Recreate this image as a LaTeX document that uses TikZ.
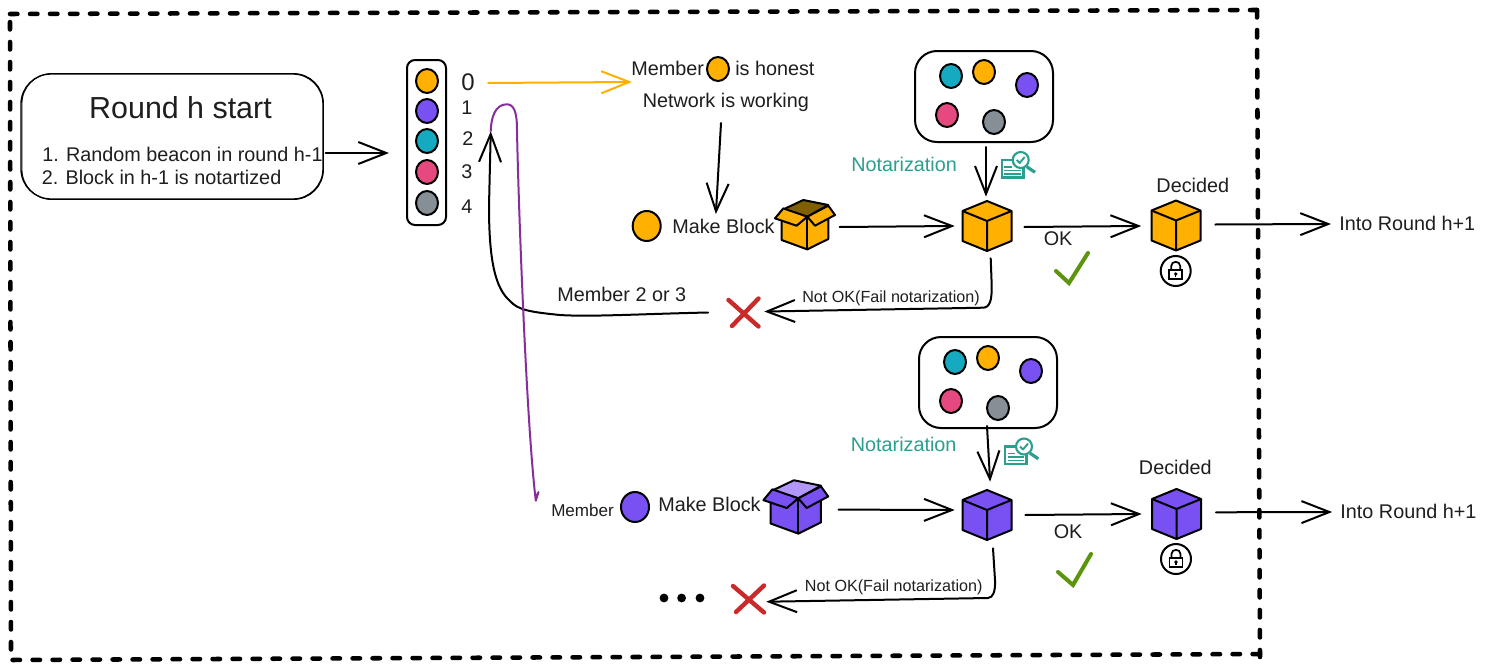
\documentclass[tikz,border=0pt]{standalone}
\usepackage{fontspec}
\setmainfont{Liberation Sans}
\usetikzlibrary{arrows.meta,calc,shapes.geometric}
\definecolor{ink}{HTML}{1E1E1E}
\definecolor{cOrange}{HTML}{FFB000}
\definecolor{cPurple}{HTML}{7950F2}
\definecolor{cTeal}{HTML}{15AABF}
\definecolor{cPink}{HTML}{E64980}
\definecolor{cGray}{HTML}{868E96}
\definecolor{cNote}{HTML}{2B9E8F}
\definecolor{cCurve}{HTML}{862E9C}
\definecolor{cCheck}{HTML}{5C940D}
\definecolor{cRed}{HTML}{C92A2A}
\definecolor{cDark}{HTML}{7F5F00}
\definecolor{cLight}{HTML}{B197FC}
\tikzset{
  txt/.style={anchor=base west,inner sep=0pt,text=ink,font=\fontsize{14.85}{17}\selectfont},
  ctr/.style={anchor=center,inner sep=0pt,text=ink,font=\fontsize{14.85}{17}\selectfont},
  dot/.style={ellipse,draw=black,line width=1.5pt,inner sep=0pt,minimum width=16.5pt,minimum height=18pt},
  bigdot/.style={dot,minimum width=21pt,minimum height=22.5pt},
  panel/.style={draw=black,line width=1.5pt,rounded corners=16.5pt,inner sep=0pt},
  conn/.style={draw=black,line width=1.5pt,line cap=round,line join=round,shorten >=-1.5pt,-{Straight Barb[length=21pt,width=16.5pt,line width=1.5pt]}},
  outline/.style={draw=black,line width=1.5pt,line join=round},
  border/.style={draw=black,line width=3.4pt,line cap=round,dash pattern=on 5.6pt off 9.4pt},
  cross/.style={draw=cRed,line width=3.3pt,line cap=round},
  tick/.style={draw=cCheck,line width=3pt,line cap=round,line join=miter},
}
% cube: name, x, y, colour
\newcommand{\mycube}[4]{%
  \node[minimum width=36.75pt,minimum height=37.5pt,inner sep=0pt] (#1) at (#2,#3) {};
  \begin{scope}[shift={(#2,#3)}]
    \path[fill=#4,outline] (0,-25) -- (24.5,-15) -- (24.5,15) -- (0,25) -- (-24.5,15) -- (-24.5,-15) -- cycle;
    \path[outline] (-24.5,-15) -- (0,-5) -- (24.5,-15) (0,-5) -- (0,25);
  \end{scope}}
% open box: name, x, y, scale, colour, inside colour
\newcommand{\mybox}[6]{%
  \node[minimum width=45pt,minimum height=37.5pt,inner sep=0pt] (#1) at ($(#2,#3)+(-2,9.3)$) {};
  \begin{scope}[shift={(#2,#3)},scale=#4]
    \path[fill=#5,outline] (-25.7,1.7) -- (-25.7,23.3) -- (0,32.7) -- (21,22.3) -- (21,-2.7) -- (0,0) -- cycle;
    \path[outline] (0,0) -- (0,32.7);
    \path[fill=#6,outline] (-24,-7.3) -- (-4,-16.7) -- (21,-11.7) -- (0,0) -- cycle;
    \path[fill=#5,outline] (-32.3,1.7) -- (-24,-8.3) -- (0,0) -- (-10.7,9) -- cycle;
    \path[fill=#5,outline] (0,0) -- (21,-11) -- (27.7,-1.7) -- (7.7,9) -- cycle;
  \end{scope}}
% lock: name, x, y
\newcommand{\mylock}[3]{%
  \node[circle,draw=black,line width=1.5pt,inner sep=0pt,minimum size=22.5pt] (#1) at (#2,#3) {};
  \begin{scope}[shift={(#2,#3)}]
    \path[draw=black,line width=1.3pt] (-6.5,-1) rectangle (6.5,8);
    \path[draw=black,line width=1.3pt] (-4.5,-1) -- (-4.5,-5) .. controls (-4.5,-10.5) and (4.5,-10.5) .. (4.5,-5) -- (4.5,-1);
    \path[fill=black] (0,3) circle (1.8);
    \path[draw=black,line width=1pt] (0,3) -- (0,6);
  \end{scope}}
% notarization icon: x, y
\newcommand{\myicon}[2]{%
  \begin{scope}[shift={(#1,#2)}]
    \path[draw=cNote,line width=1.8pt] (0,0) rectangle (21.6,17.3);
    \path[draw=cNote,line width=1.2pt] (2.5,7) -- (10,7) (2.5,10.5) -- (19,10.5) (2.5,14) -- (19,14);
    \path[draw=cNote,line width=2.4pt] (25,6.7) -- (33.3,12.3);
    \path[fill=white,draw=cNote,line width=1.6pt] (19,0) circle (8);
    \path[draw=cNote,line width=1.4pt,line join=round] (15,0) -- (18,3) -- (23,-3);
  \end{scope}}
\begin{document}
\begin{tikzpicture}[x=0.75pt,y=-0.75pt]
\useasboundingbox (0,0) rectangle (1486,671);
\fill[white] (0,0) rectangle (1486,671);

% dashed frame
\path[border] (10,14) -- (1257,10);
\path[border] (1257,10) -- (1260,657);
\path[border] (1260,654) -- (10,660);
\path[border] (10,22) -- (11,652);

% round start box
\node[draw=black,line width=1pt,rounded corners=22.5pt,inner sep=0pt,minimum width=226.5pt,minimum height=93.75pt] (rb) at (172,136.5) {};
\path[draw=black,line width=.6pt,rounded corners=22.5pt] (22,73.5) rectangle (323.5,199.5);
\node[txt,anchor=center,font=\fontsize{22.8}{26}\selectfont] (rt) at (180.5,108) {Round h start};
\node[txt] (r1) at (42,161) {1. Random beacon in round h-1};
\node[txt] (r2) at (41.5,184) {2. Block in h-1 is notartized};

% member list
\node[draw=black,line width=1.5pt,rounded corners=6pt,inner sep=0pt,minimum width=29.25pt,minimum height=123.75pt] (list) at (426.5,142.5) {};
\node[dot,fill=cOrange] (l0) at (427,81) {};
\node[dot,fill=cPurple] (l1) at (427,111) {};
\node[dot,fill=cTeal] (l2) at (427,141) {};
\node[dot,fill=cPink] (l3) at (427,172) {};
\node[dot,fill=cGray] (l4) at (427,203) {};
\node[ctr,font=\fontsize{18}{20}\selectfont] (n0) at (468,82) {0};
\node[ctr] (n1) at (467,108) {1};
\node[ctr] (n2) at (468,139) {2};
\node[ctr] (n3) at (467,172) {3};
\node[ctr] (n4) at (467,207) {4};

% top row
\node[txt] (mem) at (631,75) {Member};
\node[dot,fill=cOrange] (memdot) at (718,69) {};
\node[txt] (hon) at (735,75) {is honest};
\node[txt] (net) at (642.5,107.7) {Network is working};
\node[bigdot,fill=cOrange] (d1) at (646.7,226) {};
\node[txt] (mk1) at (672,233) {Make Block};
\mybox{box1}{807.3}{216.7}{1}{cOrange}{cDark}
\mycube{c1}{987}{226}{cOrange}
\mycube{f1}{1176}{225.5}{cOrange}
\mylock{lock1}{1175.7}{271}
\node[txt] (dec1) at (1156.2,192) {Decided};
\node[txt] (ok1) at (1043.5,245.7) {OK};
\node[txt] (into1) at (1339,230.7) {Into Round h+1};
\node[txt,text=cNote] (nt1) at (851,171.7) {Notarization};
\myicon{1001.7}{160}
\node[panel,minimum width=103.5pt,minimum height=68.25pt] (nb1) at (984,96.5) {};
\node[dot,fill=cTeal] (a1) at (951,76) {};
\node[dot,fill=cOrange] (a2) at (984,72) {};
\node[dot,fill=cPurple] (a3) at (1027,85) {};
\node[dot,fill=cPink] (a4) at (947,115) {};
\node[dot,fill=cGray] (a5) at (994,122) {};
\node[txt,font=\fontsize{12.1}{14}\selectfont] (no1) at (802,302) {Not OK(Fail notarization)};
\node[txt] (m23) at (557.2,301.7) {Member 2 or 3};
\node[minimum width=24.75pt,minimum height=21.75pt,inner sep=0pt] (x1) at (743.5,312.5) {};
\path[cross] (728.5,300) -- (758.5,326.5) (758.5,298.5) -- (732,326);
\path[tick] (1056,271) -- (1069,283) -- (1088,253);

% bottom row
\node[txt,font=\fontsize{12.8}{14}\selectfont] (mem2) at (551,516) {Member};
\node[bigdot,fill=cPurple] (d2) at (635,507) {};
\node[txt] (mk2) at (658,511.7) {Make Block};
\mybox{box2}{798.3}{498.3}{1.08}{cPurple}{cLight}
\mycube{c2}{987}{515}{cPurple}
\mycube{f2}{1176.5}{514}{cPurple}
\mylock{lock2}{1176}{559}
\node[txt] (dec2) at (1138.7,474) {Decided};
\node[txt] (ok2) at (1053.5,538) {OK};
\node[txt] (into2) at (1340.2,518) {Into Round h+1};
\node[txt,text=cNote] (nt2) at (850.6,451.7) {Notarization};
\myicon{1005}{446.5}
\node[panel,minimum width=103.5pt,minimum height=68.25pt] (nb2) at (988,382.5) {};
\node[dot,fill=cTeal] (b1) at (955,362) {};
\node[dot,fill=cOrange] (b2) at (988,358) {};
\node[dot,fill=cPurple] (b3) at (1031,371) {};
\node[dot,fill=cPink] (b4) at (951,401) {};
\node[dot,fill=cGray] (b5) at (998,408) {};
\node[txt,font=\fontsize{12.1}{14}\selectfont] (no2) at (804.7,591.7) {Not OK(Fail notarization)};
\node[minimum width=24.75pt,minimum height=21.75pt,inner sep=0pt] (x2) at (748.5,599) {};
\path[cross] (733,586) -- (764,612.5) (764,585.5) -- (736,612);
\path[tick] (1058,572) -- (1073,585) -- (1091,554);
\node[circle,fill=black,inner sep=0pt,minimum size=6.6pt] (e1) at (664,598) {};
\node[circle,fill=black,inner sep=0pt,minimum size=6.6pt] (e2) at (681.6,598) {};
\node[circle,fill=black,inner sep=0pt,minimum size=6.6pt] (e3) at (700,598) {};

% connectors
\path[conn] ($(rb.east)+(2,16.5)$) -- ($(list.west)+(-19,10.5)$);
\path[conn,draw=cOrange,-{Straight Barb[length=21pt,width=16.5pt,line width=1.5pt,color=cOrange]}] ($(n0.center)+(20,1)$) -- ($(mem.base west)+(-1,7)$);
\path[conn] ($(net.base west)+(78.5,15.3)$) -- ($(mk1.base west)+(44,-21)$);
\path[conn] ($(box1.east)+(4,1)$) -- ($(c1.west)+(-9.5,0)$);
\path[conn] ($(nb1.south)+(2,4)$) -- ($(c1.north)+(-1,-6)$);
\path[conn] ($(c1.east)+(12.5,1)$) -- ($(f1.west)+(-12,0.5)$);
\path[conn] ($(f1.east)+(14.5,-1)$) -- ($(into1.base west)+(-10,-6.7)$);
\path[conn] ($(c1.south)+(3.7,7)$) -- (991.7,285) .. controls (992,300) and (990,307.5) .. (983,307.7) -- ($(x1.east)+(6,-1)$);
\path[conn] ($(x1.west)+(-18.7,0)$) .. controls (640,314) and (590,317) .. (560,315) .. controls (530,312) and (518,310) .. (510,301) .. controls (495,288) and (489,260) .. (489,206) -- ($(n2.center)+(22.7,-5.7)$);
\path[conn] ($(box2.east)+(12,2)$) -- ($(c2.west)+(-9.5,-5)$);
\path[conn] ($(nb2.south)+(-1,-3)$) -- ($(c2.north)+(3,-10)$);
\path[conn] ($(c2.east)+(13.5,0)$) -- ($(f2.west)+(-12,0)$);
\path[conn] ($(f2.east)+(14.7,-1.7)$) -- ($(into2.base west)+(-10,-6)$);
\path[conn] ($(c2.south)+(6,8)$) -- (995,580) .. controls (995.5,592) and (993,597.5) .. (988,598) -- ($(x2.east)+(3,2.7)$);
\path[draw=cCurve,line width=1.5pt,line join=round] ($(n2.center)+(22.7,-7.3)$) .. controls (491,118) and (495,104.3) .. (506.7,104.3) .. controls (514,104.3) and (517,112) .. (517,130) .. controls (518,190) and (526,420) .. (535.8,500.7) -- (538.5,492) -- (536,497);
\end{tikzpicture}
\end{document}
